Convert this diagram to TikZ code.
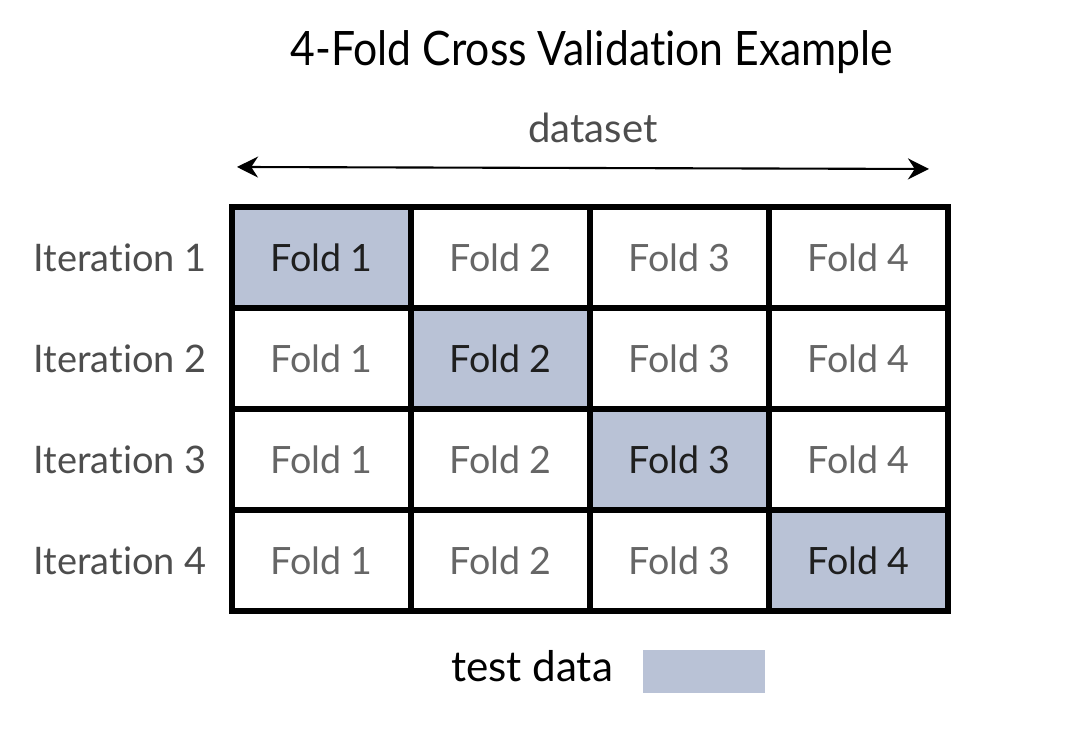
\documentclass[tikz,border=0pt]{standalone}
\usepackage{fontspec}
\setmainfont{Lato}[Ligatures=NoCommon]
\newfontfamily\titlefont[FakeStretch=0.9, Ligatures=NoCommon]{Lato}
\usepackage{tikz}
\usetikzlibrary{arrows.meta,positioning}

\definecolor{testblue}{HTML}{B9C2D6}
\definecolor{foldgray}{HTML}{666666}
\definecolor{labelgray}{HTML}{4D4D4D}

\tikzset{
  fold/.style={draw=black, line width=1.85pt, minimum width=1.79cm,
    minimum height=1.01cm, inner sep=0pt, text=foldgray,
    font=\fontsize{10.7}{12}\selectfont},
  testfold/.style={fold, fill=testblue, text=black!88},
  iterlabel/.style={anchor=west, inner sep=0pt, text=labelgray, font=\fontsize{10.8}{12}\selectfont}
}

\begin{document}
\begin{tikzpicture}
          \useasboundingbox (0, 0) rectangle (10.76, -7.43);

          \node[font=\titlefont\fontsize{13.5}{15}\selectfont] (title) at (5.92, -0.52) {4-Fold Cross Validation Example};
          \node[text=labelgray, font=\fontsize{11.4}{13}\selectfont] (dataset) at (5.93, -1.28) {dataset};

          \coordinate (left) at (2.37, -1.67);
          \coordinate (right) at (9.29, -1.69);
          \draw[line width=0.6pt, {Stealth[length=6pt, width=6pt]}-{Stealth[length=6pt, width=6pt]}] (left) -- (right);

          % grid of folds, one row per iteration
          \foreach \row in {1,...,4} {
            \node[iterlabel] (iter\row) at (0.33, {-2.575 - 1.01*(\row-1)}) {Iteration \row};
            \foreach \col in {1,...,4} {
              \ifnum\row=\col
                \node[testfold] (f\row\col) at ({3.215 + 1.79*(\col-1)}, {-2.575 - 1.01*(\row-1)}) {Fold \col};
              \else
                \node[fold] (f\row\col) at ({3.215 + 1.79*(\col-1)}, {-2.575 - 1.01*(\row-1)}) {Fold \col};
              \fi
            }
          }

          \node[font=\fontsize{12}{14}\selectfont] (testlabel) at (5.32, -6.66) {test data};
          \node[fill=testblue, minimum width=1.22cm, minimum height=0.43cm, inner sep=0pt, anchor=west] (testkey) at (6.42, -6.715) {};
        \end{tikzpicture}
\end{document}
